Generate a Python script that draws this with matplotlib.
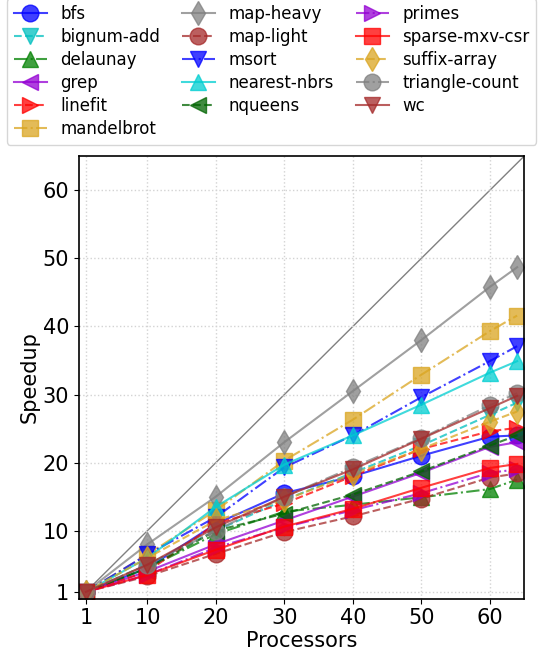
import matplotlib
matplotlib.use("Agg")
import matplotlib.pyplot as plt

procs = [1, 10, 20, 30, 40, 50, 60, 64]

names = ["bfs", "bignum-add", "delaunay", "grep", "linefit", "mandelbrot",
         "map-heavy", "map-light", "msort", "nearest-nbrs", "nqueens",
         "primes", "sparse-mxv-csr", "suffix-array", "triangle-count", "wc"]

bfs = [1, 4.5, 11, 15.5, 18, 21, 23.8, 24]
bignum_add = [1, 5, 10, 14.5, 18.5, 22.5, 27, 28.8]
delaunay = [1, 4.5, 9.5, 12.8, 13.8, 14.9, 16.1, 17.5]
grep = [1, 4, 8, 11.5, 15, 18.5, 22.3, 23]
linefit = [1, 4, 11, 14, 18, 22, 24.6, 25.1]
mandelbrot = [1, 6.5, 13, 20.3, 26.3, 32.9, 39.3, 41.6]
map_heavy = [1, 8, 15, 23, 30.5, 38, 45.8, 48.7]
map_light = [1, 3.3, 6.6, 9.8, 12.1, 14.7, 17.8, 18.4]
msort = [1, 6.5, 12, 19.3, 24, 29.6, 34.9, 37.1]
nearest_nbrs = [1, 6, 13.5, 19.7, 24, 28.5, 33.2, 34.9]
nqueens = [1, 4.5, 10, 12.5, 15.3, 18.7, 22.5, 24]
primes = [1, 3.5, 7.5, 10.5, 13, 15.5, 18.5, 19]
sparse_mxv_csr = [1, 3.5, 7.2, 10.6, 13.2, 16.3, 19.2, 19.8]
suffix_array = [1, 6, 11.5, 14.5, 18.3, 22, 26, 27.5]
triangle_count = [1, 5, 10, 15, 19.3, 23.6, 28.4, 30.2]
wc = [1, 5, 10.5, 15, 19, 23.5, 28, 29.8]

series = [bfs, bignum_add, delaunay, grep, linefit, mandelbrot, map_heavy,
          map_light, msort, nearest_nbrs, nqueens, primes, sparse_mxv_csr,
          suffix_array, triangle_count, wc]

colors = ["blue", "c", "g", "darkviolet", "red", "goldenrod", "gray", "brown",
          "blue", "darkturquoise", "darkgreen", "darkviolet", "red",
          "goldenrod", "gray", "brown"]
markers = ["o", "v", "^", "<", ">", "s", "d", "o", "v", "^", "<", ">", "s",
           "d", "o", "v"]
styles = ["-", "--", "-.", "-", "--", "-.", "-", "--", "-.", "-", "--", "-.",
          "-", "--", "-.", "-"]

ticks = [1, 10, 20, 30, 40, 50, 60]

fig = plt.figure(figsize=(5.43, 6.56), dpi=100)
ax = fig.add_axes([79/543, 1-598.7/656, (524-79)/543, (598.7-156.3)/656])

ax.plot([0, 65], [0, 65], color="gray", lw=1, zorder=1)
for name, ys, c, m, ls in zip(names, series, colors, markers, styles):
    ax.plot(procs, ys, color=c, marker=m, linestyle=ls, markersize=12,
            alpha=0.75, lw=1.5, label=name, zorder=2)

ax.set_xlim(0, 65)
ax.set_ylim(0, 65)
ax.set_xticks(ticks)
ax.set_yticks(ticks)
ax.tick_params(labelsize=15)
ax.grid(True, linestyle=":", color="lightgray", lw=1)
ax.set_xlabel("Processors", fontsize=15, labelpad=2)
ax.set_ylabel("Speedup", fontsize=15, labelpad=2)
for s in ax.spines.values():
    s.set_linewidth(1.2)

fig.legend(loc="lower center", bbox_to_anchor=(0.5, 1 - 153/656), ncol=3,
           fontsize=12, numpoints=1, columnspacing=1.3, handletextpad=0.8,
           labelspacing=0.3, borderpad=0.4)

fig.savefig("out.png", dpi=100)
